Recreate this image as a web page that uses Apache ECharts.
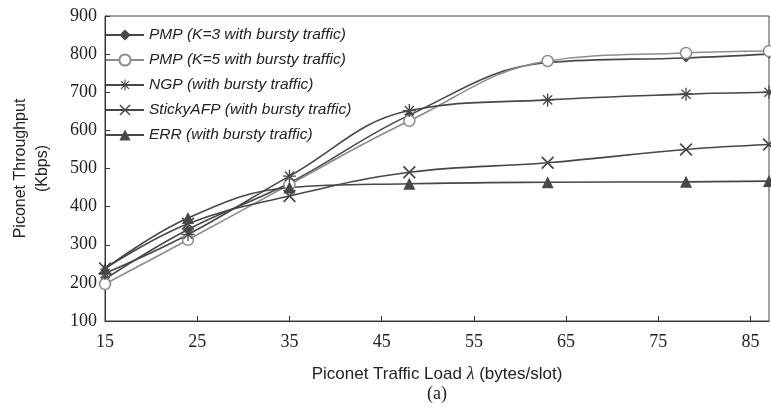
<!DOCTYPE html>
<html>
<head>
<meta charset="utf-8">
<script src="https://cdn.jsdelivr.net/npm/echarts@6/dist/echarts.min.js"></script>
<style>html,body{margin:0;padding:0;background:#fff;}#c{width:771px;height:411px;}</style>
</head>
<body>
<div id="c"></div>
<script>
const loads = [15, 24, 35, 48, 63, 78, 87];
const pmpK3 = [210, 340, 462, 640, 778, 790, 800];
const pmpK5 = [197, 313, 458, 625, 782, 803, 808];
const ngp = [225, 327, 480, 652, 680, 695, 700];
const stickyAfp = [238, 355, 428, 490, 515, 550, 563];
const err = [237, 370, 450, 460, 464, 465, 467];
const xTicks = [15, 25, 35, 45, 55, 65, 75, 85];
const seriesNames = ['PMP (K=3 with bursty traffic)', 'PMP (K=5 with bursty traffic)', 'NGP (with bursty traffic)', 'StickyAFP (with bursty traffic)', 'ERR (with bursty traffic)'];

const pair = arr => loads.map((x, i) => [x, arr[i]]);
const dark = '#474747';
const light = '#8c8c8c';
const asterisk = 'path://M-1,-10L1,-10L1,10L-1,10Z M-10,-1L10,-1L10,1L-10,1Z M-7.71,-6.29L-6.29,-7.71L7.71,6.29L6.29,7.71Z M-6.29,7.71L-7.71,6.29L6.29,-7.71L7.71,-6.29Z';
const cross = 'path://M-7.71,-6.29L-6.29,-7.71L7.71,6.29L6.29,7.71Z M-6.29,7.71L-7.71,6.29L6.29,-7.71L7.71,-6.29Z';

function mk(name, data, color, symbol, size, extra) {
  return Object.assign({
    name: name, type: 'line', data: pair(data), smooth: 0.4,
    symbol: symbol, symbolSize: size,
    lineStyle: {color: color, width: 1.6},
    itemStyle: {color: color},
    z: 3
  }, extra || {});
}

const chart = echarts.init(document.getElementById('c'), null, {renderer: 'canvas'});
chart.setOption({
  animation: false,
  backgroundColor: '#fff',
  grid: {left: 105, right: 2, top: 16, bottom: 90, show: true, borderColor: '#444', borderWidth: 1, containLabel: false, outerBoundsMode: 'none'},
  legend: {
    orient: 'vertical', left: 105, top: 27, padding: 0, itemGap: 9, itemWidth: 38, itemHeight: 14,
    data: seriesNames,
    textStyle: {fontFamily: 'Liberation Sans, Arial, sans-serif', fontStyle: 'italic', fontSize: 15.5, color: '#222'}
  },
  xAxis: {
    type: 'value', min: 15, max: 87,
    axisLine: {show: true, lineStyle: {color: '#333', width: 1}},
    axisTick: {show: true, inside: true, length: 5, customValues: xTicks, lineStyle: {color: '#333'}},
    axisLabel: {customValues: xTicks, margin: 12, fontFamily: 'Liberation Serif, Times New Roman, serif', fontSize: 18, color: '#222'},
    splitLine: {show: false},
    name: '{a|Piconet Traffic Load }{l|λ}{a| (bytes/slot)}',
    nameLocation: 'middle', nameGap: 44,
    nameTextStyle: {rich: {
      a: {fontFamily: 'Liberation Sans, Arial, sans-serif', fontSize: 17, color: '#222'},
      l: {fontFamily: 'Liberation Serif, serif', fontStyle: 'italic', fontSize: 18, color: '#222'}
    }}
  },
  yAxis: {
    type: 'value', min: 100, max: 900, interval: 100,
    axisLine: {show: true, lineStyle: {color: '#333', width: 1}},
    axisTick: {show: true, inside: true, length: 5, lineStyle: {color: '#333'}},
    axisLabel: {margin: 8, fontFamily: 'Liberation Serif, Times New Roman, serif', fontSize: 18, color: '#222'},
    splitLine: {show: false},
    name: 'Piconet Throughput\n(Kbps)',
    nameLocation: 'middle', nameGap: 51, nameRotate: 90,
    nameTextStyle: {fontFamily: 'Liberation Sans, Arial, sans-serif', fontSize: 16, color: '#222', lineHeight: 22}
  },
  graphic: [{
    type: 'text', left: 427, top: 385,
    style: {text: '(a)', font: '18px "Liberation Serif", serif', fill: '#222'}
  }],
  series: [
    mk(seriesNames[0], pmpK3, dark, 'diamond', 9),
    mk(seriesNames[1], pmpK5, light, 'circle', 11, {itemStyle: {color: '#fff', borderColor: light, borderWidth: 1.5}}),
    mk(seriesNames[2], ngp, dark, asterisk, 13),
    mk(seriesNames[3], stickyAfp, dark, cross, 13),
    mk(seriesNames[4], err, dark, 'triangle', 12)
  ]
});
</script>
</body>
</html>
